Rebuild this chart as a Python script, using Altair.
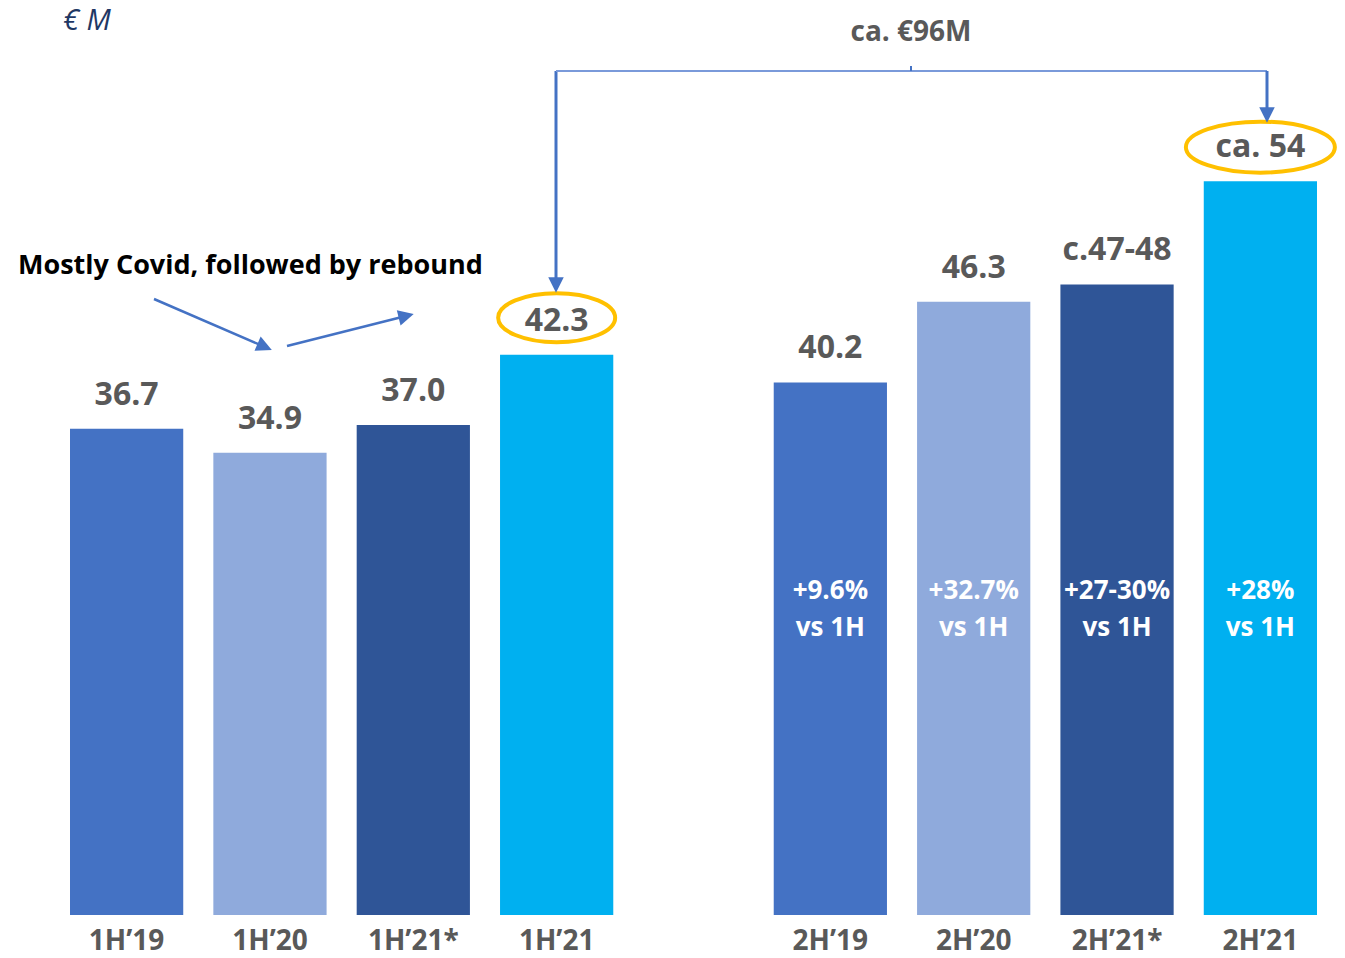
import altair as alt
import pandas as pd

# ---- data ----
halves = ["1H", "1H", "1H", "1H", "2H", "2H", "2H", "2H"]
keys = ["19", "20", "21*", "21", "19", "20", "21*", "21"]
values = [36.7, 34.9, 37.0, 42.3, 40.2, 46.3, 47.6, 55.4]
value_labels = ["36.7", "34.9", "37.0", "42.3", "40.2", "46.3", "c.47-48", "ca. 54"]
tick_labels = ["1H’19", "1H’20", "1H’21*", "1H’21", "2H’19", "2H’20", "2H’21*", "2H’21"]
note_line1 = ["", "", "", "", "+9.6%", "+32.7%", "+27-30%", "+28%"]
note_line2 = ["", "", "", "", "vs 1H", "vs 1H", "vs 1H", "vs 1H"]
circled = [False, False, False, True, False, False, False, True]

key_order = ["19", "20", "21*", "21"]
key_colors = ["#4472C4", "#8FAADC", "#2F5597", "#00B0F0"]

df = pd.DataFrame({
    "half": halves, "key": keys, "value": values, "vlabel": value_labels,
    "tick": tick_labels, "n1": note_line1, "n2": note_line2, "circled": circled,
})

W, H = 1247, 914
FONT = "Open Sans"
GREY = "#595959"
BLUE = "#4472C4"

x_enc = alt.X("half:N", axis=None,
              scale=alt.Scale(domain=["1H", "2H"], paddingInner=0.228, paddingOuter=0))
xo_enc = alt.XOffset("key:N",
                     scale=alt.Scale(domain=key_order, paddingInner=0.21, paddingOuter=0))
y_scale = alt.Scale(domain=[0, 69], nice=False, zero=True)

base = alt.Chart(df).encode(x=x_enc, xOffset=xo_enc)

bars = base.mark_bar().encode(
    y=alt.Y("value:Q", scale=y_scale, axis=None),
    color=alt.Color("key:N", scale=alt.Scale(domain=key_order, range=key_colors), legend=None),
)

vlabels = base.mark_text(font=FONT, fontWeight="bold", fontSize=32, color=GREY,
                         baseline="middle", dy=-34).encode(
    y=alt.Y("value:Q", scale=y_scale), text="vlabel:N")

ticks = base.mark_text(font=FONT, fontWeight="bold", fontSize=28, color=GREY,
                       baseline="middle").encode(y=alt.value(941), text="tick:N")

notes1 = base.mark_text(font=FONT, fontWeight="bold", fontSize=26, color="white",
                        baseline="middle").encode(y=alt.value(590), text="n1:N")
notes2 = base.mark_text(font=FONT, fontWeight="bold", fontSize=26, color="white",
                        baseline="middle").encode(y=alt.value(627), text="n2:N")


def ellipse_path(r):
    k = 0.5523
    return (f"M-1,0 C-1,{-k*r:.3f} {-k:.3f},{-r:.3f} 0,{-r:.3f} "
            f"C{k:.3f},{-r:.3f} 1,{-k*r:.3f} 1,0 "
            f"C1,{k*r:.3f} {k:.3f},{r:.3f} 0,{r:.3f} "
            f"C{-k:.3f},{r:.3f} -1,{k*r:.3f} -1,0 Z")


ring1 = base.transform_filter("datum.circled && datum.half == '1H'").mark_point(
    shape=ellipse_path(49 / 117), size=117 ** 2, filled=False, color="#FFC000",
    strokeWidth=4, opacity=1).encode(
    y=alt.Y("value:Q", scale=y_scale), yOffset=alt.value(-37))
ring2 = base.transform_filter("datum.circled && datum.half == '2H'").mark_point(
    shape=ellipse_path(51 / 149), size=149 ** 2, filled=False, color="#FFC000",
    strokeWidth=4, opacity=1).encode(
    y=alt.Y("value:Q", scale=y_scale), yOffset=alt.value(-34))

# ---- annotations (pixel positions in plot coordinates) ----
ox, oy = 70, 1
seg = pd.DataFrame({
    "x": [556, 556, 1267, 154, 287, 911],
    "y": [71, 71, 71, 299, 346, 66],
    "x2": [556, 1267, 1267, 265, 406, 911],
    "y2": [279, 71, 108, 347, 316, 71],
    "w": [3, 2, 3, 2.5, 2.5, 2],
    "c": [BLUE, "#7A9ADA", BLUE, BLUE, BLUE, BLUE],
})
seg_layers = []
for _, s in seg.iterrows():
    seg_layers.append(alt.Chart(df.head(1)).mark_rule(
        strokeWidth=float(s.w), color=s.c).encode(
        x=alt.value(float(s.x - ox)), y=alt.value(float(s.y - oy)),
        x2=alt.value(float(s.x2 - ox)), y2=alt.value(float(s.y2 - oy))))

tri = "M-1,-1 L1,-1 L0,1 Z"
heads = pd.DataFrame({
    "x": [556, 1267, 264.7, 406.2],
    "y": [285, 115, 346.8, 316.0],
    "a": [0, 0, 293.4, 255.9],
})
head_layers = []
for _, h in heads.iterrows():
    head_layers.append(alt.Chart(df.head(1)).mark_point(
        shape=tri, size=240, filled=True, color=BLUE, opacity=1,
        angle=float(h.a)).encode(
        x=alt.value(float(h.x - ox)), y=alt.value(float(h.y - oy))))

t_total = alt.Chart(df.head(1)).mark_text(
    font=FONT, fontWeight="bold", fontSize=28, color=GREY, baseline="middle").encode(
    x=alt.value(911 - ox), y=alt.value(33 - oy), text=alt.value("ca. €96M"))
t_unit = alt.Chart(df.head(1)).mark_text(
    font=FONT, fontStyle="italic", fontSize=29, color="#1F3864", baseline="middle",
    align="left").encode(
    x=alt.value(63 - ox), y=alt.value(21 - oy), text=alt.value("€ M"))
t_covid = alt.Chart(df.head(1)).mark_text(
    font=FONT, fontWeight="bold", fontSize=27, color="black", baseline="middle",
    align="left").encode(
    x=alt.value(18 - ox), y=alt.value(266 - oy),
    text=alt.value("Mostly Covid, followed by rebound"))

chart = alt.layer(
    bars, vlabels, ticks, notes1, notes2, ring1, ring2,
    *seg_layers, *head_layers, t_total, t_unit, t_covid,
).properties(
    width=W, height=H,
    padding={"left": ox, "top": oy, "right": 1345 - W - ox, "bottom": 958 - H - oy},
    autosize=alt.AutoSizeParams(type="none"),
    background="white",
).configure_view(stroke=None)

chart.save("out.html", embed_options={"renderer": "svg", "actions": False})
